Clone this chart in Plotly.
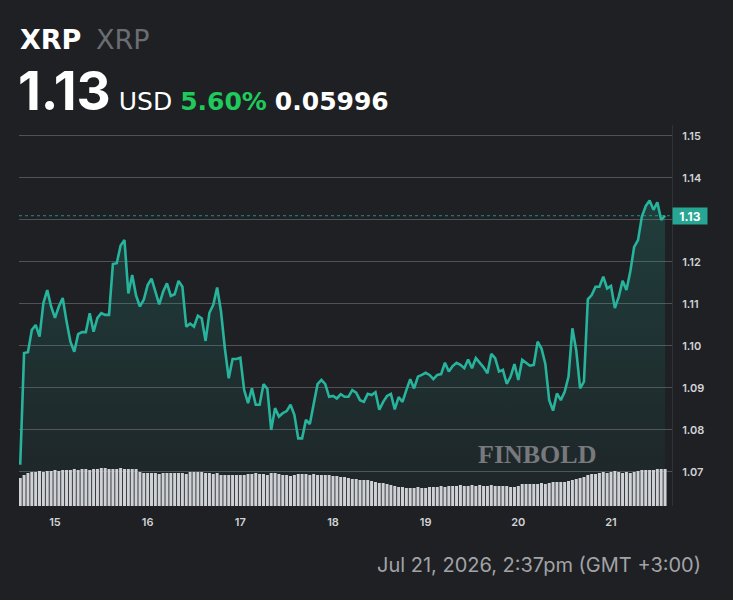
import pandas as pd
import plotly.graph_objects as go

# ---------------- data ----------------
prices = [
    1.0717, 1.0983, 1.0985, 1.1038, 1.1050, 1.1022, 1.1102, 1.1133, 1.1094, 1.1067,
    1.1094, 1.1114, 1.1058, 1.1010, 1.0986, 1.1028, 1.1033, 1.1033, 1.1078, 1.1034,
    1.1067, 1.1078, 1.1074, 1.1074, 1.1195, 1.1197, 1.1239, 1.1252, 1.1125, 1.1169,
    1.1120, 1.1094, 1.1110, 1.1145, 1.1160, 1.1129, 1.1099, 1.1129, 1.1149, 1.1119,
    1.1123, 1.1155, 1.1141, 1.1046, 1.1053, 1.1046, 1.1072, 1.1066, 1.1012, 1.1079,
    1.1098, 1.1139, 1.1082, 1.0994, 1.0923, 1.0969, 1.0969, 1.0972, 1.0895, 1.0864,
    1.0899, 1.0860, 1.0860, 1.0909, 1.0898, 1.0800, 1.0852, 1.0832, 1.0840, 1.0845,
    1.0860, 1.0836, 1.0780, 1.0780, 1.0824, 1.0814, 1.0860, 1.0909, 1.0919, 1.0909,
    1.0879, 1.0881, 1.0875, 1.0885, 1.0879, 1.0879, 1.0895, 1.0889, 1.0871, 1.0867,
    1.0886, 1.0883, 1.0890, 1.0848, 1.0867, 1.0881, 1.0886, 1.0849, 1.0878, 1.0867,
    1.0895, 1.0921, 1.0899, 1.0927, 1.0931, 1.0936, 1.0931, 1.0921, 1.0931, 1.0933,
    1.0960, 1.0939, 1.0952, 1.0960, 1.0955, 1.0947, 1.0968, 1.0947, 1.0971, 1.0960,
    1.0949, 1.0935, 1.0981, 1.0971, 1.0939, 1.0943, 1.0910, 1.0927, 1.0957, 1.0919,
    1.0967, 1.0960, 1.0953, 1.0955, 1.1010, 1.0994, 1.0957, 1.0871, 1.0846, 1.0887,
    1.0871, 1.0891, 1.0927, 1.1042, 1.0990, 1.0899, 1.0915, 1.1111, 1.1121, 1.1141,
    1.1141, 1.1165, 1.1137, 1.1143, 1.1090, 1.1117, 1.1155, 1.1133, 1.1177, 1.1236,
    1.1252, 1.1308, 1.1333, 1.1346, 1.1324, 1.1342, 1.1300, 1.1310,
]

volumes = [
    28, 31, 33, 34, 34, 35, 34, 35, 35, 36,
    35, 36, 36, 36, 37, 36, 37, 37, 36, 37,
    37, 38, 38, 37, 37, 37, 38, 37, 37, 37,
    37, 34, 33, 33, 33, 33, 32, 33, 33, 33,
    33, 33, 33, 32, 34, 34, 34, 34, 33, 33,
    32, 33, 31, 31, 31, 31, 31, 31, 31, 32,
    32, 33, 32, 32, 31, 33, 33, 32, 31, 31,
    30, 31, 32, 32, 32, 31, 32, 31, 31, 31,
    31, 30, 30, 29, 29, 28, 27, 27, 26, 26,
    26, 25, 24, 23, 23, 22, 21, 20, 19, 19,
    18, 18, 18, 19, 18, 18, 19, 19, 19, 20,
    19, 20, 20, 20, 21, 20, 20, 21, 20, 21,
    20, 20, 21, 20, 20, 20, 20, 19, 19, 20,
    22, 22, 22, 22, 22, 23, 22, 23, 24, 24,
    24, 24, 25, 26, 27, 28, 29, 31, 32, 32,
    33, 34, 33, 34, 35, 34, 33, 34, 33, 34,
    35, 36, 36, 36, 36, 37, 37, 37,
]

start_time = "2026-07-14 15:00"
day_ticks = ["2026-07-15", "2026-07-16", "2026-07-17", "2026-07-18",
             "2026-07-19", "2026-07-20", "2026-07-21"]
day_labels = ["15", "16", "17", "18", "19", "20", "21"]
price_ticks = [1.07, 1.08, 1.09, 1.10, 1.11, 1.12, 1.13, 1.14, 1.15]
# the 1.13 label sits under the last-price badge, so it is left blank there
price_labels = ["1.07", "1.08", "1.09", "1.10", "1.11", "1.12", "", "1.14", "1.15"]

symbol = "XRP"
name = "XRP"
last_price = "1.13"
currency = "USD"
change_pct = "5.60%"
change_abs = "0.05996"
timestamp = "Jul 21, 2026, 2:37pm (GMT +3:00)"

# ---------------- style ----------------
BG = "#1e2024"
TEAL = "#27b39c"
GRID = "#4f5256"
TICK = "#d2d3d5"

times = pd.date_range(start_time, periods=len(prices), freq="h")
vtimes = pd.date_range(start_time, periods=len(volumes), freq="h")

W, H = 733, 600
ML, MR, MT, MB = 19, 61, 125, 94
PW, PH = W - ML - MR, H - MT - MB


def px(x):
    return (x - ML) / PW


def py(y):
    return (H - MB - y) / PH


fig = go.Figure()

fig.add_trace(go.Bar(
    x=vtimes, y=volumes, yaxis="y2",
    marker=dict(color="#d0d1d5", line=dict(width=0)),
    hoverinfo="skip", showlegend=False,
))

fig.add_trace(go.Scatter(
    x=times, y=prices, mode="lines",
    line=dict(color=TEAL, width=2.6),
    fill="tozeroy",
    fillgradient=dict(
        type="vertical",
        colorscale=[[0, "rgba(39,179,156,0.03)"], [1, "rgba(39,179,156,0.20)"]],
        start=1.062, stop=1.135,
    ),
    showlegend=False,
))

last_val = prices[-1]
fig.add_shape(type="line", xref="paper", yref="y", x0=0, x1=1, y0=last_val, y1=last_val,
              line=dict(color="rgba(39,179,156,0.75)", width=1, dash="dot"))

small = "font-size:25px;font-family:DejaVu Sans"
annotations = [
    dict(text=f"<b>{symbol}</b>", x=px(18), y=py(39), xanchor="left", yanchor="middle",
         font=dict(family="DejaVu Sans", size=27, color="#ffffff")),
    dict(text=name, x=px(94), y=py(39), xanchor="left", yanchor="middle",
         font=dict(family="DejaVu Sans", size=27, color="#6a6d71")),
    dict(text=(f"<b>{last_price}</b>"
               f"<span style='{small}'> {currency}</span>"
               f"<span style='{small};color:#1fc95b'> <b>{change_pct}</b></span>"
               f"<span style='{small}'> <b>{change_abs}</b></span>"),
         x=px(16), y=py(91), xanchor="left", yanchor="middle",
         font=dict(family="Inter", size=53, color="#ffffff")),
    dict(text=timestamp, x=px(703), y=py(565), xanchor="right", yanchor="middle",
         font=dict(family="Inter", size=20, color="#a2a3a6")),
    dict(text="<b>FINBOLD</b>", x=px(537), y=py(454), xanchor="center", yanchor="middle",
         font=dict(family="Liberation Serif", size=26, color="#77797c")),
    dict(text=f"<b>{last_price}</b>", x=1, y=last_val, xref="paper", yref="y",
         xanchor="left", yanchor="middle", bgcolor="#26a693", borderpad=1,
         width=32, height=14,
         font=dict(family="Inter", size=12, color="#ffffff")),
]
for a in annotations:
    a.setdefault("xref", "paper")
    a.setdefault("yref", "paper")
    a["showarrow"] = False

fig.update_layout(
    width=W, height=H,
    margin=dict(l=ML, r=MR, t=MT, b=MB),
    paper_bgcolor=BG, plot_bgcolor=BG,
    bargap=0.22,
    annotations=annotations,
    xaxis=dict(
        type="date",
        range=["2026-07-14 14:41", "2026-07-21 15:48"],
        tickvals=day_ticks, ticktext=day_labels,
        showgrid=False, zeroline=False, showline=False,
        ticks="outside", ticklen=6, tickcolor=BG,
        tickfont=dict(family="Inter", size=11, color=TICK, weight=600),
    ),
    yaxis=dict(
        side="right",
        range=[1.0619, 1.1526],
        tickvals=price_ticks, ticktext=price_labels,
        showgrid=True, gridcolor=GRID, gridwidth=1,
        zeroline=False, showline=True, linecolor="#2f3236", linewidth=1,
        ticks="outside", ticklen=7, tickcolor=BG,
        tickfont=dict(family="Inter", size=11, color=TICK, weight=600),
    ),
    yaxis2=dict(overlaying="y", range=[0, PH], visible=False, fixedrange=True),
)

fig.write_html("out.html")
